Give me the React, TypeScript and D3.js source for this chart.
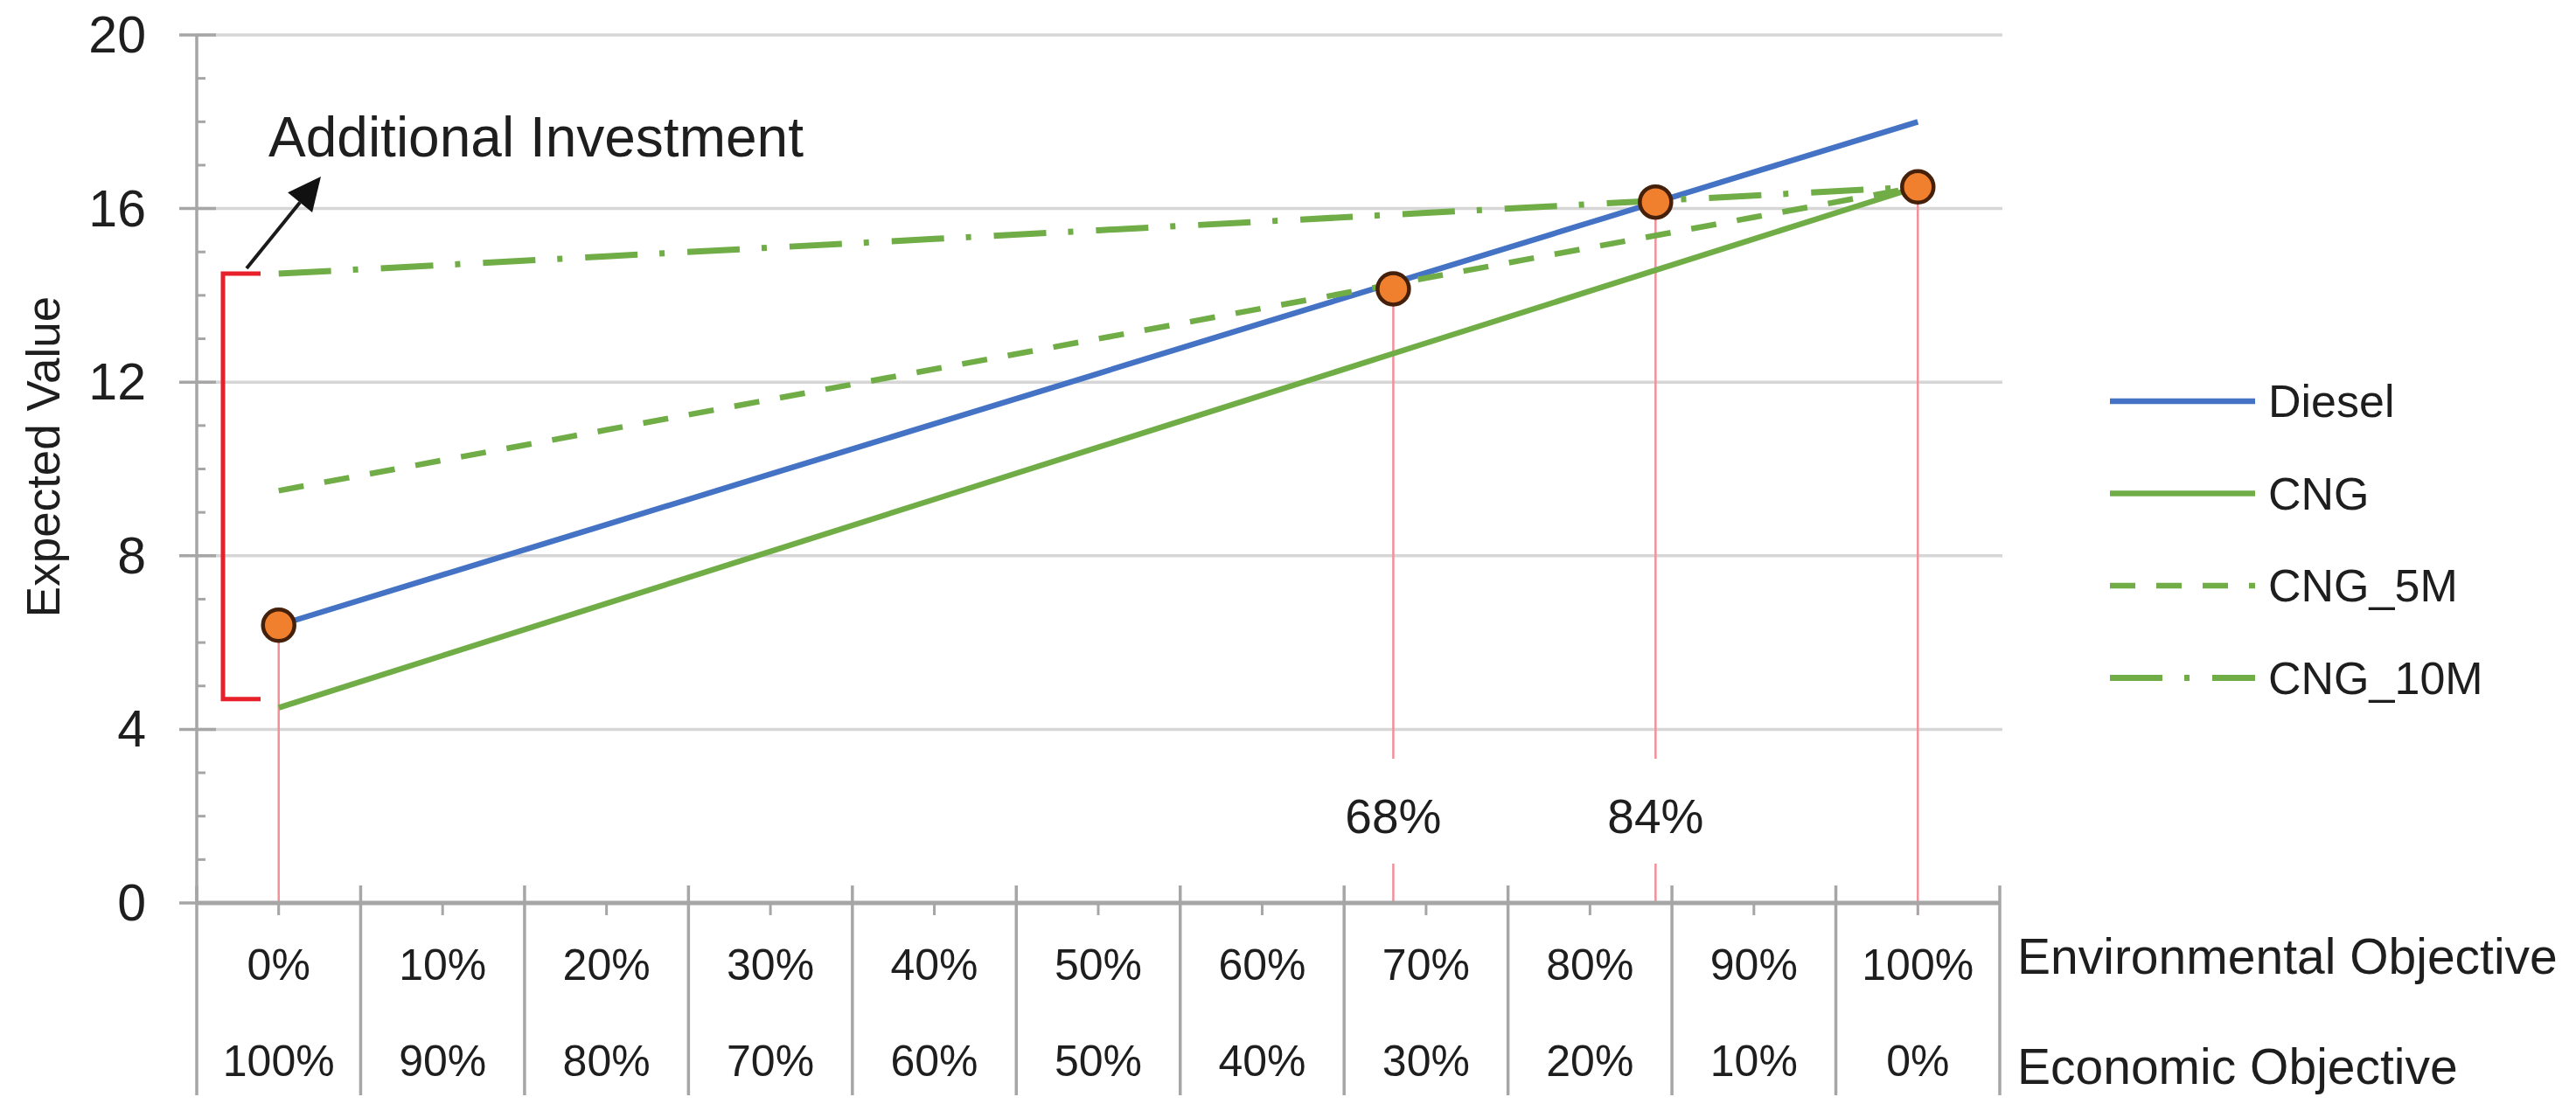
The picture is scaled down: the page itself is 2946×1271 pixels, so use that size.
import React from "react";
import * as d3 from "d3";

const envLabels = ["0%", "10%", "20%", "30%", "40%", "50%", "60%", "70%", "80%", "90%", "100%"];
const econLabels = ["100%", "90%", "80%", "70%", "60%", "50%", "40%", "30%", "20%", "10%", "0%"];
const weights = [0, 10, 20, 30, 40, 50, 60, 70, 80, 90, 100];

const diesel = [6.4, 7.56, 8.72, 9.88, 11.04, 12.2, 13.36, 14.52, 15.68, 16.84, 18.0];
const cng = [4.5, 5.7, 6.9, 8.1, 9.3, 10.5, 11.7, 12.9, 14.1, 15.3, 16.5];
const cng5m = [9.5, 10.2, 10.9, 11.6, 12.3, 13.0, 13.7, 14.4, 15.1, 15.8, 16.5];
const cng10m = [14.5, 14.7, 14.9, 15.1, 15.3, 15.5, 15.7, 15.9, 16.1, 16.3, 16.5];

const seriesNames = ["Diesel", "CNG", "CNG_5M", "CNG_10M"];

const keyPointWeights = [0, 68, 84, 100];
const keyPointValues = [6.4, 14.15, 16.15, 16.5];
const keyPointLabels = ["", "68%", "84%", ""];

const yTicks = [0, 4, 8, 12, 16, 20];
const yMinor = [1, 2, 3, 5, 6, 7, 9, 10, 11, 13, 14, 15, 17, 18, 19];

const bracketTop = 14.5;
const bracketBottom = 4.7;

const FONT = "'Liberation Sans', Arial, sans-serif";
const TXT = "#1e1e1e";

export default function App() {
  const W = 2946;
  const H = 1271;
  const plotLeft = 225;
  const plotRight = 2287;
  const plotTop = 40;
  const plotBottom = 1033;

  const y = d3.scaleLinear().domain([0, 20]).range([plotBottom, plotTop]);
  const xBand = d3.scaleBand<string>().domain(envLabels).range([plotLeft, plotRight]);
  const bw = xBand.bandwidth();
  const xw = d3
    .scaleLinear()
    .domain([0, 100])
    .range([(xBand("0%") as number) + bw / 2, (xBand("100%") as number) + bw / 2]);

  const line = d3
    .line<number>()
    .x((_, i) => xw(weights[i]))
    .y((d) => y(d));

  const styles = [
    { color: "#4472C4", dash: "", width: 6.5 },
    { color: "#70AD47", dash: "", width: 6.5 },
    { color: "#70AD47", dash: "29 24", width: 6.5 },
    { color: "#70AD47", dash: "60 25 6 26", width: 7 },
  ];
  const data = [diesel, cng, cng5m, cng10m];

  const gridColor = "#d6d6d6";
  const axisColor = "#a6a6a6";
  const dropColor = "#f2909a";

  // arrow annotation
  const bx = plotLeft + 30;
  const bxEnd = plotLeft + 73;
  const arrowStart: [number, number] = [plotLeft + 57, y(bracketTop) - 6];
  const arrowTip: [number, number] = [plotLeft + 142, y(bracketTop) - 111];
  const adx = arrowTip[0] - arrowStart[0];
  const ady = arrowTip[1] - arrowStart[1];
  const alen = Math.hypot(adx, ady);
  const ux = adx / alen;
  const uy = ady / alen;
  const hl = 38;
  const hw = 18;
  const baseX = arrowTip[0] - hl * ux;
  const baseY = arrowTip[1] - hl * uy;
  const head = [
    [arrowTip[0], arrowTip[1]],
    [baseX - uy * hw, baseY + ux * hw],
    [baseX + uy * hw, baseY - ux * hw],
  ]
    .map((p) => p.join(","))
    .join(" ");

  const legendX1 = 2413;
  const legendX2 = 2579;
  const legendY0 = 459;
  const legendStep = 105.5;

  const row1Y = 1104;
  const row2Y = 1214;

  return (
    <svg
      width={W}
      height={H}
      viewBox={`0 0 ${W} ${H}`}
      style={{ position: "absolute", left: 0, top: 0, background: "#fff" }}
    >
      <rect x={0} y={0} width={W} height={H} fill="#fff" />

      {/* gridlines */}
      {yTicks
        .filter((t) => t > 0)
        .map((t) => (
          <line key={"g" + t} x1={plotLeft} x2={plotRight + 3} y1={y(t)} y2={y(t)} stroke={gridColor} strokeWidth={3.5} />
        ))}

      {/* y axis */}
      <line x1={plotLeft} x2={plotLeft} y1={plotTop} y2={plotBottom} stroke={axisColor} strokeWidth={3.5} />
      {yTicks.map((t) => (
        <line key={"mt" + t} x1={plotLeft - 20} x2={plotLeft + 22} y1={y(t)} y2={y(t)} stroke={axisColor} strokeWidth={3.5} />
      ))}
      {yMinor.map((t) => (
        <line key={"mi" + t} x1={plotLeft} x2={plotLeft + 10} y1={y(t)} y2={y(t)} stroke={axisColor} strokeWidth={3} />
      ))}
      {yTicks.map((t) => (
        <text
          key={"yl" + t}
          x={plotLeft - 58}
          y={y(t)}
          textAnchor="end"
          dominantBaseline="central"
          fontFamily={FONT}
          fontSize={59}
          fill={TXT}
        >
          {t}
        </text>
      ))}
      <text
        transform={`translate(68, ${(plotTop + plotBottom) / 2 - 14}) rotate(-90)`}
        textAnchor="middle"
        fontFamily={FONT}
        fontSize={53}
        fill={TXT}
      >
        Expected Value
      </text>

      {/* drop lines */}
      {keyPointWeights.map((w, i) => {
        const cx = xw(w);
        const cy = y(keyPointValues[i]);
        if (keyPointLabels[i]) {
          return (
            <g key={"dl" + i}>
              <line x1={cx} x2={cx} y1={cy} y2={868} stroke={dropColor} strokeWidth={2.5} />
              <line x1={cx} x2={cx} y1={988} y2={plotBottom} stroke={dropColor} strokeWidth={2.5} />
              <text
                x={cx}
                y={934}
                textAnchor="middle"
                dominantBaseline="central"
                fontFamily={FONT}
                fontSize={55}
                fill={TXT}
              >
                {keyPointLabels[i]}
              </text>
            </g>
          );
        }
        return <line key={"dl" + i} x1={cx} x2={cx} y1={cy} y2={plotBottom + 14} stroke={dropColor} strokeWidth={2.5} />;
      })}

      {/* series */}
      {data.map((s, i) => (
        <path
          key={"s" + i}
          d={line(s) || ""}
          fill="none"
          stroke={styles[i].color}
          strokeWidth={styles[i].width}
          strokeDasharray={styles[i].dash || undefined}
        />
      ))}

      {/* x axis */}
      <line x1={plotLeft} x2={plotRight} y1={plotBottom} y2={plotBottom} stroke={axisColor} strokeWidth={5} />
      {envLabels.map((l) => (
        <line
          key={"ct" + l}
          x1={(xBand(l) as number) + bw / 2}
          x2={(xBand(l) as number) + bw / 2}
          y1={plotBottom}
          y2={plotBottom + 14}
          stroke={axisColor}
          strokeWidth={3}
        />
      ))}
      {d3.range(envLabels.length + 1).map((k) => {
        const xx = plotLeft + k * bw;
        return <line key={"dv" + k} x1={xx} x2={xx} y1={plotBottom - 20} y2={1253} stroke={axisColor} strokeWidth={3.5} />;
      })}
      {envLabels.map((l) => (
        <text
          key={"e" + l}
          x={(xBand(l) as number) + bw / 2}
          y={row1Y}
          textAnchor="middle"
          dominantBaseline="central"
          fontFamily={FONT}
          fontSize={50}
          fill={TXT}
        >
          {l}
        </text>
      ))}
      {econLabels.map((l, i) => (
        <text
          key={"c" + i}
          x={(xBand(envLabels[i]) as number) + bw / 2}
          y={row2Y}
          textAnchor="middle"
          dominantBaseline="central"
          fontFamily={FONT}
          fontSize={50}
          fill={TXT}
        >
          {l}
        </text>
      ))}
      <text x={2307} y={1094} dominantBaseline="central" fontFamily={FONT} fontSize={57} fill={TXT}>
        Environmental Objective
      </text>
      <text x={2307} y={1220} dominantBaseline="central" fontFamily={FONT} fontSize={57} fill={TXT}>
        Economic Objective
      </text>

      {/* markers */}
      {keyPointWeights.map((w, i) => (
        <circle key={"m" + i} cx={xw(w)} cy={y(keyPointValues[i])} r={18} fill="#F0802E" stroke="#45200a" strokeWidth={4.5} />
      ))}

      {/* bracket annotation */}
      <path
        d={`M${bxEnd},${y(bracketTop)} L${bx},${y(bracketTop)} L${bx},${y(bracketBottom)} L${bxEnd},${y(bracketBottom)}`}
        fill="none"
        stroke="#e8202a"
        strokeWidth={5}
      />
      <line x1={arrowStart[0]} y1={arrowStart[1]} x2={baseX} y2={baseY} stroke="#1a1a1a" strokeWidth={4} />
      <polygon points={head} fill="#111" />
      <text x={307} y={179} fontFamily={FONT} fontSize={64} fill={TXT}>
        Additional Investment
      </text>

      {/* legend */}
      {seriesNames.map((n, i) => {
        const ly = legendY0 + i * legendStep;
        return (
          <g key={"lg" + n}>
            <line
              x1={legendX1}
              x2={legendX2}
              y1={ly}
              y2={ly}
              stroke={styles[i].color}
              strokeWidth={styles[i].width}
              strokeDasharray={styles[i].dash || undefined}
            />
            <text x={2594} y={ly} dominantBaseline="central" fontFamily={FONT} fontSize={52} fill={TXT}>
              {n}
            </text>
          </g>
        );
      })}
    </svg>
  );
}
